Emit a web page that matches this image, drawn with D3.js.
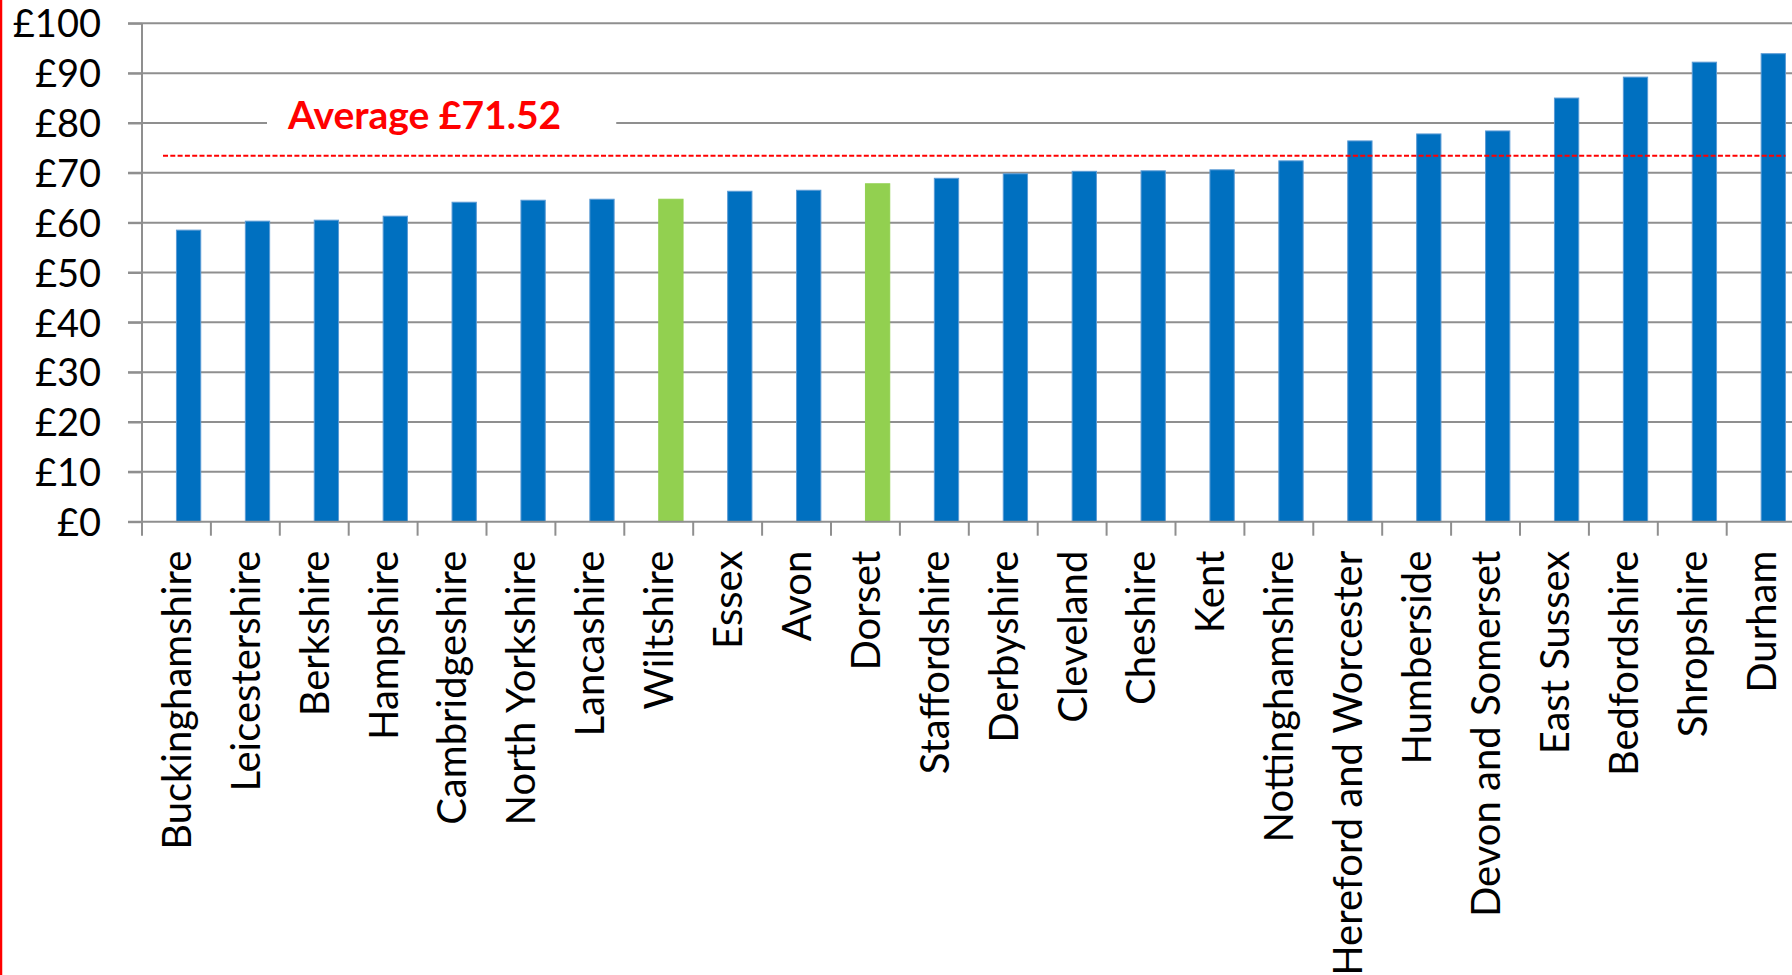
<!DOCTYPE html>
<html>
<head>
<meta charset="utf-8">
<script src="https://cdn.jsdelivr.net/npm/d3@7"></script>
<style>
  html, body { margin: 0; padding: 0; background: #fff; }
  svg { display: block; }
  text { font-family: Lato, "Open Sans", sans-serif; }
</style>
</head>
<body>
<svg id="chart" width="1792" height="975"></svg>
<script>
// ---- data ----
const counties = ["Buckinghamshire","Leicestershire","Berkshire","Hampshire","Cambridgeshire",
  "North Yorkshire","Lancashire","Wiltshire","Essex","Avon","Dorset","Staffordshire","Derbyshire",
  "Cleveland","Cheshire","Kent","Nottinghamshire","Hereford and Worcester","Humberside",
  "Devon and Somerset","East Sussex","Bedfordshire","Shropshire","Durham"];
const costs = [58.5, 60.3, 60.5, 61.3, 64.1, 64.5, 64.7, 64.7, 66.3, 66.5, 67.8, 68.9, 69.8,
  70.3, 70.4, 70.6, 72.4, 76.4, 77.8, 78.4, 85.0, 89.2, 92.2, 93.9];
const highlighted = ["Wiltshire", "Dorset"];
const averageLineValue = 73.4;
const averageLabel = "Average £71.52";
const yTicks = [0, 10, 20, 30, 40, 50, 60, 70, 80, 90, 100];
const seriesSlots = ["spacer", "cost"];

// ---- layout ----
const svg = d3.select("#chart");
const plotLeft = 142, plotRight = 1795.6, plotTop = 23.3, plotBottom = 521.7;

const x = d3.scaleBand().domain(counties).range([plotLeft, plotRight]).padding(0);
const slot = d3.scaleBand().domain(seriesSlots).range([0, x.bandwidth()])
  .paddingInner(0).paddingOuter(0.418);
const y = d3.scaleLinear().domain([0, 100]).range([plotBottom, plotTop]);

const gridColor = "#8f8f8f";

// left red frame line
svg.append("line").attr("x1", 1).attr("x2", 1).attr("y1", 0).attr("y2", 975)
  .attr("stroke", "#ff0000").attr("stroke-width", 2.5);

// gridlines
svg.append("g").selectAll("line").data(yTicks.filter(d => d > 0)).join("line")
  .attr("x1", plotLeft - 14).attr("x2", 1792)
  .attr("y1", d => y(d)).attr("y2", d => y(d))
  .attr("stroke", gridColor).attr("stroke-width", 2);

// y axis
const yAxis = svg.append("g").attr("transform", `translate(${plotLeft},0)`)
  .call(d3.axisLeft(y).tickValues(yTicks).tickSize(14).tickPadding(27)
    .tickFormat(d => "£" + d));
yAxis.select(".domain").attr("stroke", gridColor).attr("stroke-width", 2)
  .attr("d", `M0,${plotTop}V${plotBottom}`);
yAxis.selectAll(".tick line").attr("stroke", gridColor).attr("stroke-width", 2);
yAxis.selectAll(".tick text").attr("font-size", 38).attr("fill", "#000")
  .attr("font-family", "Lato, sans-serif").attr("dy", "0.36em");

// bars
svg.append("g").selectAll("rect").data(counties).join("rect")
  .attr("x", d => x(d) + slot("cost"))
  .attr("width", slot.bandwidth())
  .attr("y", (d, i) => y(costs[i]))
  .attr("height", (d, i) => y(0) - y(costs[i]))
  .attr("fill", d => highlighted.includes(d) ? "#92d050" : "#0070c0")
  .attr("stroke", d => highlighted.includes(d) ? "#92d050" : "#5b9bd5")
  .attr("stroke-width", 1);

// x axis
const xAxisG = svg.append("g").attr("transform", `translate(0,${plotBottom})`);
xAxisG.append("line").attr("x1", plotLeft - 14).attr("x2", 1792).attr("y1", 0).attr("y2", 0)
  .attr("stroke", gridColor).attr("stroke-width", 2);
const tickPositions = counties.map(c => x(c)).concat([x(counties[counties.length - 1]) + x.bandwidth()]);
xAxisG.selectAll("line.tk").data(tickPositions).join("line").attr("class", "tk")
  .attr("x1", d => d).attr("x2", d => d).attr("y1", 0).attr("y2", 14)
  .attr("stroke", gridColor).attr("stroke-width", 2);
xAxisG.selectAll("text").data(counties).join("text")
  .attr("transform", d => `translate(${x(d) + x.bandwidth() / 2},${29}) rotate(-90)`)
  .attr("text-anchor", "end").attr("dy", "0.36em")
  .attr("font-size", 40).attr("fill", "#000")
  .text(d => d);

// average dashed line
svg.append("line")
  .attr("x1", 163).attr("x2", x(counties[counties.length - 1]) + slot("cost") + slot.bandwidth())
  .attr("y1", y(averageLineValue)).attr("y2", y(averageLineValue))
  .attr("stroke", "#ff0000").attr("stroke-width", 2).attr("stroke-dasharray", "5,2.3");

// average label with white box
const lbl = svg.append("g");
const box = lbl.append("rect").attr("fill", "#fff");
const t = lbl.append("text").attr("x", 288).attr("y", 129)
  .attr("font-size", 39).attr("font-weight", "bold").attr("fill", "#ff0000")
  .text(averageLabel);
const bb = t.node().getBBox();
box.attr("x", bb.x - 20).attr("y", bb.y).attr("width", bb.width + 75).attr("height", bb.height);
</script>
</body>
</html>
